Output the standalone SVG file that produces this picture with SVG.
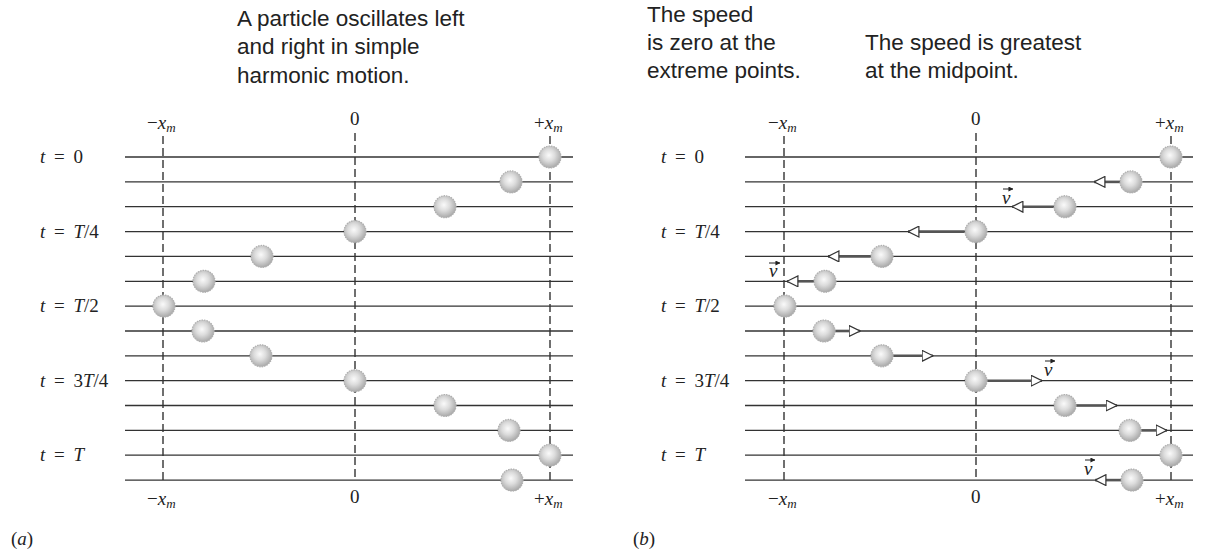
<svg xmlns="http://www.w3.org/2000/svg" width="1205" height="552" viewBox="0 0 1205 552">
<style>
.cap{font-family:"Liberation Sans",Arial,sans-serif;font-size:22.5px;fill:#222}
.lab{font-family:"Liberation Serif","Times New Roman",serif;font-size:19px;fill:#222;word-spacing:4px}
.it{font-style:italic}
.sub{font-style:italic;font-size:13px}
.hl{stroke:#333;stroke-width:1.3}
.dash{stroke:#333;stroke-width:1.4;stroke-dasharray:8 4;fill:none}
.ball{fill:url(#bg);stroke:#b0b0b0;stroke-width:1.2;stroke-dasharray:1.5 1}
.shaft{stroke:#555;stroke-width:2.6;fill:none}
.va{stroke:#222;stroke-width:1;fill:none}
</style>
<defs>
<radialGradient id="bg" cx="0.45" cy="0.42" r="0.6">
<stop offset="0" stop-color="#fafafa"/>
<stop offset="0.45" stop-color="#dcdcdc"/>
<stop offset="1" stop-color="#a6a6a6"/>
</radialGradient>
<marker id="oh" viewBox="0 0 12 12" refX="11.5" refY="6" markerWidth="12" markerHeight="12" markerUnits="userSpaceOnUse" orient="auto">
<path d="M0.6,0.6 L11.5,6 L0.6,11.4 Z" fill="#fff" stroke="#333" stroke-width="1.2"/>
</marker>
<marker id="sh" viewBox="0 0 6 6" refX="5.5" refY="3" markerWidth="5" markerHeight="5" markerUnits="userSpaceOnUse" orient="auto">
<path d="M0,0 L6,3 L0,6 Z" fill="#222"/>
</marker>
</defs>
<rect width="1205" height="552" fill="#fff"/>

<g id="captions">
<text class="cap" x="237" y="26">A particle oscillates left</text>
<text class="cap" x="237" y="54">and right in simple</text>
<text class="cap" x="237" y="83">harmonic motion.</text>
<text class="cap" x="647" y="22">The speed</text>
<text class="cap" x="647" y="50">is zero at the</text>
<text class="cap" x="647" y="78">extreme points.</text>
<text class="cap" x="865" y="50">The speed is greatest</text>
<text class="cap" x="865" y="78">at the midpoint.</text>
</g>

<!-- Panel a -->
<g id="panel-a">
<g id="a-lines">
<line class="hl" x1="125" y1="157" x2="573" y2="157"/>
<line class="hl" x1="125" y1="181.9" x2="573" y2="181.9"/>
<line class="hl" x1="125" y1="206.7" x2="573" y2="206.7"/>
<line class="hl" x1="125" y1="231.6" x2="573" y2="231.6"/>
<line class="hl" x1="125" y1="256.4" x2="573" y2="256.4"/>
<line class="hl" x1="125" y1="281.3" x2="573" y2="281.3"/>
<line class="hl" x1="125" y1="306.1" x2="573" y2="306.1"/>
<line class="hl" x1="125" y1="331" x2="573" y2="331"/>
<line class="hl" x1="125" y1="355.8" x2="573" y2="355.8"/>
<line class="hl" x1="125" y1="380.7" x2="573" y2="380.7"/>
<line class="hl" x1="125" y1="405.5" x2="573" y2="405.5"/>
<line class="hl" x1="125" y1="430.4" x2="573" y2="430.4"/>
<line class="hl" x1="125" y1="455.2" x2="573" y2="455.2"/>
<line class="hl" x1="125" y1="480.1" x2="573" y2="480.1"/>
</g>
<g id="a-axes">
<line class="dash" x1="163" y1="136" x2="163" y2="480"/>
<line class="dash" x1="355" y1="133" x2="355" y2="480"/>
<line class="dash" x1="550" y1="136" x2="550" y2="480"/>
<text class="lab" x="147" y="129">−<tspan class="it">x</tspan><tspan class="sub" dy="3">m</tspan></text>
<text class="lab" x="350" y="125">0</text>
<text class="lab" x="534" y="129">+<tspan class="it">x</tspan><tspan class="sub" dy="3">m</tspan></text>
<text class="lab" x="147" y="505">−<tspan class="it">x</tspan><tspan class="sub" dy="3">m</tspan></text>
<text class="lab" x="350" y="503">0</text>
<text class="lab" x="534" y="505">+<tspan class="it">x</tspan><tspan class="sub" dy="3">m</tspan></text>
</g>
<g id="a-times">
<text class="lab" x="40" y="163"><tspan class="it">t</tspan> = 0</text>
<text class="lab" x="40" y="238"><tspan class="it">t</tspan> = <tspan class="it">T</tspan>/4</text>
<text class="lab" x="40" y="312"><tspan class="it">t</tspan> = <tspan class="it">T</tspan>/2</text>
<text class="lab" x="40" y="387"><tspan class="it">t</tspan> = 3<tspan class="it">T</tspan>/4</text>
<text class="lab" x="40" y="461"><tspan class="it">t</tspan> = <tspan class="it">T</tspan></text>
</g>
<g id="a-balls">
<circle id="a-b0" class="ball" cx="550" cy="157" r="11"/>
<circle id="a-b1" class="ball" cx="511" cy="181.9" r="11"/>
<circle id="a-b2" class="ball" cx="445" cy="206.7" r="11"/>
<circle id="a-b3" class="ball" cx="355" cy="231.6" r="11"/>
<circle id="a-b4" class="ball" cx="262" cy="256.4" r="11"/>
<circle id="a-b5" class="ball" cx="204" cy="281.3" r="11"/>
<circle id="a-b6" class="ball" cx="164" cy="306.1" r="11"/>
<circle id="a-b7" class="ball" cx="203" cy="331" r="11"/>
<circle id="a-b8" class="ball" cx="261" cy="355.8" r="11"/>
<circle id="a-b9" class="ball" cx="355" cy="380.7" r="11"/>
<circle id="a-b10" class="ball" cx="445" cy="405.5" r="11"/>
<circle id="a-b11" class="ball" cx="509" cy="430.4" r="11"/>
<circle id="a-b12" class="ball" cx="550" cy="455.2" r="11"/>
<circle id="a-b13" class="ball" cx="512" cy="480.1" r="11"/>
</g>
<text class="lab" x="11" y="545">(<tspan class="it">a</tspan>)</text>
</g>

<!-- Panel b -->
<g id="panel-b">
<g id="b-lines">
<line class="hl" x1="745" y1="157" x2="1193" y2="157"/>
<line class="hl" x1="745" y1="181.9" x2="1193" y2="181.9"/>
<line class="hl" x1="745" y1="206.7" x2="1193" y2="206.7"/>
<line class="hl" x1="745" y1="231.6" x2="1193" y2="231.6"/>
<line class="hl" x1="745" y1="256.4" x2="1193" y2="256.4"/>
<line class="hl" x1="745" y1="281.3" x2="1193" y2="281.3"/>
<line class="hl" x1="745" y1="306.1" x2="1193" y2="306.1"/>
<line class="hl" x1="745" y1="331" x2="1193" y2="331"/>
<line class="hl" x1="745" y1="355.8" x2="1193" y2="355.8"/>
<line class="hl" x1="745" y1="380.7" x2="1193" y2="380.7"/>
<line class="hl" x1="745" y1="405.5" x2="1193" y2="405.5"/>
<line class="hl" x1="745" y1="430.4" x2="1193" y2="430.4"/>
<line class="hl" x1="745" y1="455.2" x2="1193" y2="455.2"/>
<line class="hl" x1="745" y1="480.1" x2="1193" y2="480.1"/>
</g>
<g id="b-axes">
<line class="dash" x1="784" y1="136" x2="784" y2="480"/>
<line class="dash" x1="976" y1="133" x2="976" y2="480"/>
<line class="dash" x1="1171" y1="136" x2="1171" y2="480"/>
<text class="lab" x="768" y="129">−<tspan class="it">x</tspan><tspan class="sub" dy="3">m</tspan></text>
<text class="lab" x="971" y="125">0</text>
<text class="lab" x="1155" y="129">+<tspan class="it">x</tspan><tspan class="sub" dy="3">m</tspan></text>
<text class="lab" x="768" y="505">−<tspan class="it">x</tspan><tspan class="sub" dy="3">m</tspan></text>
<text class="lab" x="971" y="503">0</text>
<text class="lab" x="1155" y="505">+<tspan class="it">x</tspan><tspan class="sub" dy="3">m</tspan></text>
</g>
<g id="b-times">
<text class="lab" x="661" y="163"><tspan class="it">t</tspan> = 0</text>
<text class="lab" x="661" y="238"><tspan class="it">t</tspan> = <tspan class="it">T</tspan>/4</text>
<text class="lab" x="661" y="312"><tspan class="it">t</tspan> = <tspan class="it">T</tspan>/2</text>
<text class="lab" x="661" y="387"><tspan class="it">t</tspan> = 3<tspan class="it">T</tspan>/4</text>
<text class="lab" x="661" y="461"><tspan class="it">t</tspan> = <tspan class="it">T</tspan></text>
</g>
<g id="connectors">
<line class="shaft" x1="1120" y1="181.9" x2="1094" y2="181.9" marker-end="url(#oh)"/>
<line class="shaft" x1="1054" y1="206.7" x2="1012" y2="206.7" marker-end="url(#oh)"/>
<line class="shaft" x1="965" y1="231.6" x2="908" y2="231.6" marker-end="url(#oh)"/>
<line class="shaft" x1="871" y1="256.4" x2="828" y2="256.4" marker-end="url(#oh)"/>
<line class="shaft" x1="814" y1="281.3" x2="787" y2="281.3" marker-end="url(#oh)"/>
<line class="shaft" x1="835" y1="331" x2="860" y2="331" marker-end="url(#oh)"/>
<line class="shaft" x1="893" y1="355.8" x2="933" y2="355.8" marker-end="url(#oh)"/>
<line class="shaft" x1="987" y1="380.7" x2="1042" y2="380.7" marker-end="url(#oh)"/>
<line class="shaft" x1="1076" y1="405.5" x2="1117" y2="405.5" marker-end="url(#oh)"/>
<line class="shaft" x1="1141" y1="430.4" x2="1167" y2="430.4" marker-end="url(#oh)"/>
<line class="shaft" x1="1121" y1="480.1" x2="1095" y2="480.1" marker-end="url(#oh)"/>
</g>
<g id="b-balls">
<circle id="b-b0" class="ball" cx="1171" cy="157" r="11"/>
<circle id="b-b1" class="ball" cx="1131" cy="181.9" r="11"/>
<circle id="b-b2" class="ball" cx="1065" cy="206.7" r="11"/>
<circle id="b-b3" class="ball" cx="976" cy="231.6" r="11"/>
<circle id="b-b4" class="ball" cx="882" cy="256.4" r="11"/>
<circle id="b-b5" class="ball" cx="825" cy="281.3" r="11"/>
<circle id="b-b6" class="ball" cx="785" cy="306.1" r="11"/>
<circle id="b-b7" class="ball" cx="824" cy="331" r="11"/>
<circle id="b-b8" class="ball" cx="882" cy="355.8" r="11"/>
<circle id="b-b9" class="ball" cx="976" cy="380.7" r="11"/>
<circle id="b-b10" class="ball" cx="1065" cy="405.5" r="11"/>
<circle id="b-b11" class="ball" cx="1130" cy="430.4" r="11"/>
<circle id="b-b12" class="ball" cx="1171" cy="455.2" r="11"/>
<circle id="b-b13" class="ball" cx="1132" cy="480.1" r="11"/>
</g>
<g id="v-labels">
<text class="lab it" x="1002" y="204">v</text>
<line class="va" x1="1003" y1="189" x2="1013" y2="189" marker-end="url(#sh)"/>
<text class="lab it" x="769" y="277">v</text>
<line class="va" x1="769" y1="263" x2="780" y2="263" marker-end="url(#sh)"/>
<text class="lab it" x="1044" y="376">v</text>
<line class="va" x1="1045" y1="361" x2="1055" y2="361" marker-end="url(#sh)"/>
<text class="lab it" x="1084" y="475">v</text>
<line class="va" x1="1085" y1="460" x2="1095" y2="460" marker-end="url(#sh)"/>
</g>
<text class="lab" x="633" y="545">(<tspan class="it">b</tspan>)</text>
</g>
</svg>
